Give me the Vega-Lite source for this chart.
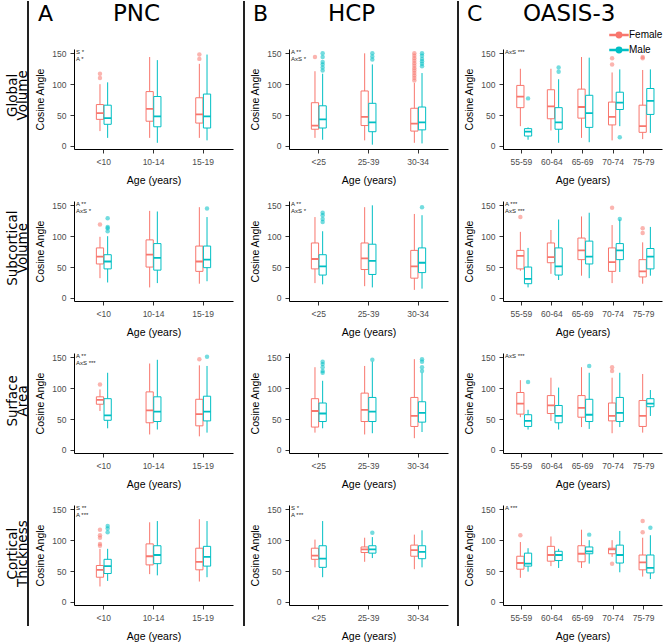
{
 "$schema": "https://vega.github.io/schema/vega-lite/v6.json",
 "padding": 0,
 "background": "white",
 "config": {
  "view": {"stroke": null},
  "font": "Liberation Sans",
  "axis": {"labelFont": "Liberation Sans", "titleFont": "Liberation Sans", "labelFontSize": 8.5, "titleFontSize": 10.5, "titleFontWeight": "normal", "labelColor": "#4d4d4d", "titleColor": "#000", "domainColor": "#000", "domainWidth": 1, "tickColor": "#333", "tickSize": 4, "grid": false, "labelPadding": 4, "labelOverlap": false},
  "axisX": {"labelAngle": 0, "titlePadding": 10},
  "axisY": {"titlePadding": 6, "labelOverlap": false, "labelFlush": false},
  "legend": {"orient": "none", "legendX": 612, "legendY": 27, "symbolType": "M-1.5,-0.07L1.5,-0.07L1.5,0.07L-1.5,0.07Z M0.45,0A0.45,0.45,0,1,1,-0.45,0A0.45,0.45,0,1,1,0.45,0Z", "symbolSize": 144, "labelFontSize": 10, "labelFont": "Liberation Sans", "labelOffset": 3, "rowPadding": 2, "symbolOpacity": 1}
 },
 "datasets": {
  "rows": [
   {"m": "GV", "t": "Global\nVolume"},
   {"m": "SV", "t": "Subcortical\nVolume"},
   {"m": "SA", "t": "Surface\nArea"},
   {"m": "CT", "t": "Cortical\nThickness"}
  ],
  "hdr": [
   {"ds": "PNC", "l": "A", "c": "PNC"},
   {"ds": "HCP", "l": "B", "c": "HCP"},
   {"ds": "OASIS", "l": "C", "c": "OASIS-3"}
  ],
  "d": [
   {"ds":"PNC","m":"GV","k":"note","t":"S *\nA *"},
   {"ds":"HCP","m":"GV","k":"note","t":"A **\nAxS *"},
   {"ds":"OASIS","m":"GV","k":"note","t":"AxS ***"},
   {"ds":"PNC","m":"SV","k":"note","t":"A **\nAxS *"},
   {"ds":"HCP","m":"SV","k":"note","t":"A **\nAxS *"},
   {"ds":"OASIS","m":"SV","k":"note","t":"A ***\nAxS ***"},
   {"ds":"PNC","m":"SA","k":"note","t":"A **\nAxS ***"},
   {"ds":"OASIS","m":"SA","k":"note","t":"AxS ***"},
   {"ds":"PNC","m":"CT","k":"note","t":"S **\nA ***"},
   {"ds":"HCP","m":"CT","k":"note","t":"S *\nA ***"},
   {"ds":"OASIS","m":"CT","k":"note","t":"A ***"},

   {"ds":"PNC","m":"GV","k":"box","age":"<10","sex":"Female","lo":24,"q1":43,"med":53,"q3":67,"hi":100},
   {"ds":"PNC","m":"GV","k":"box","age":"<10","sex":"Male","lo":13,"q1":35,"med":45,"q3":66,"hi":103},
   {"ds":"PNC","m":"GV","k":"box","age":"10-14","sex":"Female","lo":13,"q1":40,"med":60,"q3":88,"hi":144},
   {"ds":"PNC","m":"GV","k":"box","age":"10-14","sex":"Male","lo":5,"q1":31,"med":48,"q3":80,"hi":139},
   {"ds":"PNC","m":"GV","k":"box","age":"15-19","sex":"Female","lo":13,"q1":37,"med":51,"q3":78,"hi":133},
   {"ds":"PNC","m":"GV","k":"box","age":"15-19","sex":"Male","lo":9,"q1":29,"med":48,"q3":84,"hi":148},
   {"ds":"PNC","m":"GV","k":"out","age":"<10","sex":"Female","v":117},
   {"ds":"PNC","m":"GV","k":"out","age":"<10","sex":"Female","v":110},
   {"ds":"PNC","m":"GV","k":"out","age":"15-19","sex":"Female","v":148},
   {"ds":"PNC","m":"GV","k":"out","age":"15-19","sex":"Female","v":141},

   {"ds":"HCP","m":"GV","k":"box","age":"<25","sex":"Female","lo":13,"q1":27,"med":33,"q3":70,"hi":121},
   {"ds":"HCP","m":"GV","k":"box","age":"<25","sex":"Male","lo":10,"q1":29,"med":43,"q3":65,"hi":117},
   {"ds":"HCP","m":"GV","k":"box","age":"25-39","sex":"Female","lo":9,"q1":33,"med":47,"q3":89,"hi":150},
   {"ds":"HCP","m":"GV","k":"box","age":"25-39","sex":"Male","lo":2,"q1":23,"med":38,"q3":69,"hi":132},
   {"ds":"HCP","m":"GV","k":"box","age":"30-34","sex":"Female","lo":5,"q1":24,"med":36,"q3":61,"hi":102},
   {"ds":"HCP","m":"GV","k":"box","age":"30-34","sex":"Male","lo":4,"q1":26,"med":38,"q3":63,"hi":118},
   {"ds":"HCP","m":"GV","k":"out","age":"<25","sex":"Female","v":144},
   {"ds":"HCP","m":"GV","k":"out","age":"<25","sex":"Male","v":150},
   {"ds":"HCP","m":"GV","k":"out","age":"<25","sex":"Male","v":144},
   {"ds":"HCP","m":"GV","k":"out","age":"<25","sex":"Male","v":136},
   {"ds":"HCP","m":"GV","k":"out","age":"<25","sex":"Male","v":132},
   {"ds":"HCP","m":"GV","k":"out","age":"<25","sex":"Male","v":127},
   {"ds":"HCP","m":"GV","k":"out","age":"<25","sex":"Male","v":122},
   {"ds":"HCP","m":"GV","k":"out","age":"25-39","sex":"Male","v":150},
   {"ds":"HCP","m":"GV","k":"out","age":"25-39","sex":"Male","v":145},
   {"ds":"HCP","m":"GV","k":"out","age":"25-39","sex":"Male","v":140},
   {"ds":"HCP","m":"GV","k":"out","age":"30-34","sex":"Female","v":150},
   {"ds":"HCP","m":"GV","k":"out","age":"30-34","sex":"Female","v":146},
   {"ds":"HCP","m":"GV","k":"out","age":"30-34","sex":"Female","v":142},
   {"ds":"HCP","m":"GV","k":"out","age":"30-34","sex":"Female","v":138},
   {"ds":"HCP","m":"GV","k":"out","age":"30-34","sex":"Female","v":134},
   {"ds":"HCP","m":"GV","k":"out","age":"30-34","sex":"Female","v":130},
   {"ds":"HCP","m":"GV","k":"out","age":"30-34","sex":"Female","v":126},
   {"ds":"HCP","m":"GV","k":"out","age":"30-34","sex":"Female","v":122},
   {"ds":"HCP","m":"GV","k":"out","age":"30-34","sex":"Female","v":118},
   {"ds":"HCP","m":"GV","k":"out","age":"30-34","sex":"Female","v":114},
   {"ds":"HCP","m":"GV","k":"out","age":"30-34","sex":"Female","v":110},
   {"ds":"HCP","m":"GV","k":"out","age":"30-34","sex":"Female","v":106},
   {"ds":"HCP","m":"GV","k":"out","age":"30-34","sex":"Male","v":150},
   {"ds":"HCP","m":"GV","k":"out","age":"30-34","sex":"Male","v":146},
   {"ds":"HCP","m":"GV","k":"out","age":"30-34","sex":"Male","v":141},
   {"ds":"HCP","m":"GV","k":"out","age":"30-34","sex":"Male","v":137},
   {"ds":"HCP","m":"GV","k":"out","age":"30-34","sex":"Male","v":133},
   {"ds":"HCP","m":"GV","k":"out","age":"30-34","sex":"Male","v":129},

   {"ds":"OASIS","m":"GV","k":"box","age":"55-59","sex":"Female","lo":32,"q1":62,"med":80,"q3":98,"hi":125},
   {"ds":"OASIS","m":"GV","k":"box","age":"55-59","sex":"Male","lo":10,"q1":16,"med":23,"q3":28,"hi":30},
   {"ds":"OASIS","m":"GV","k":"box","age":"60-64","sex":"Female","lo":25,"q1":44,"med":64,"q3":91,"hi":125},
   {"ds":"OASIS","m":"GV","k":"box","age":"60-64","sex":"Male","lo":5,"q1":27,"med":38,"q3":62,"hi":108},
   {"ds":"OASIS","m":"GV","k":"box","age":"65-69","sex":"Female","lo":13,"q1":45,"med":63,"q3":92,"hi":144},
   {"ds":"OASIS","m":"GV","k":"box","age":"65-69","sex":"Male","lo":6,"q1":30,"med":53,"q3":82,"hi":143},
   {"ds":"OASIS","m":"GV","k":"box","age":"70-74","sex":"Female","lo":9,"q1":34,"med":47,"q3":71,"hi":119},
   {"ds":"OASIS","m":"GV","k":"box","age":"70-74","sex":"Male","lo":32,"q1":59,"med":70,"q3":87,"hi":124},
   {"ds":"OASIS","m":"GV","k":"box","age":"75-79","sex":"Female","lo":11,"q1":22,"med":32,"q3":66,"hi":123},
   {"ds":"OASIS","m":"GV","k":"box","age":"75-79","sex":"Male","lo":21,"q1":51,"med":73,"q3":93,"hi":124},
   {"ds":"OASIS","m":"GV","k":"out","age":"55-59","sex":"Male","v":77},
   {"ds":"OASIS","m":"GV","k":"out","age":"60-64","sex":"Male","v":127},
   {"ds":"OASIS","m":"GV","k":"out","age":"60-64","sex":"Male","v":120},
   {"ds":"OASIS","m":"GV","k":"out","age":"70-74","sex":"Female","v":142},
   {"ds":"OASIS","m":"GV","k":"out","age":"70-74","sex":"Female","v":132},
   {"ds":"OASIS","m":"GV","k":"out","age":"70-74","sex":"Male","v":14},
   {"ds":"OASIS","m":"GV","k":"out","age":"75-79","sex":"Female","v":144},
   {"ds":"OASIS","m":"GV","k":"out","age":"75-79","sex":"Female","v":142},

   {"ds":"PNC","m":"SV","k":"box","age":"<10","sex":"Female","lo":32,"q1":55,"med":67,"q3":81,"hi":99},
   {"ds":"PNC","m":"SV","k":"box","age":"<10","sex":"Male","lo":25,"q1":47,"med":59,"q3":70,"hi":100},
   {"ds":"PNC","m":"SV","k":"box","age":"10-14","sex":"Female","lo":17,"q1":50,"med":70,"q3":94,"hi":141},
   {"ds":"PNC","m":"SV","k":"box","age":"10-14","sex":"Male","lo":24,"q1":45,"med":65,"q3":88,"hi":140},
   {"ds":"PNC","m":"SV","k":"box","age":"15-19","sex":"Female","lo":23,"q1":43,"med":59,"q3":84,"hi":147},
   {"ds":"PNC","m":"SV","k":"box","age":"15-19","sex":"Male","lo":27,"q1":49,"med":62,"q3":84,"hi":131},
   {"ds":"PNC","m":"SV","k":"out","age":"<10","sex":"Female","v":119},
   {"ds":"PNC","m":"SV","k":"out","age":"<10","sex":"Male","v":129},
   {"ds":"PNC","m":"SV","k":"out","age":"<10","sex":"Male","v":115},
   {"ds":"PNC","m":"SV","k":"out","age":"<10","sex":"Male","v":113},
   {"ds":"PNC","m":"SV","k":"out","age":"<10","sex":"Male","v":108},
   {"ds":"PNC","m":"SV","k":"out","age":"15-19","sex":"Male","v":145},

   {"ds":"HCP","m":"SV","k":"box","age":"<25","sex":"Female","lo":24,"q1":47,"med":63,"q3":89,"hi":131},
   {"ds":"HCP","m":"SV","k":"box","age":"<25","sex":"Male","lo":22,"q1":37,"med":51,"q3":70,"hi":108},
   {"ds":"HCP","m":"SV","k":"box","age":"25-39","sex":"Female","lo":19,"q1":46,"med":64,"q3":89,"hi":147},
   {"ds":"HCP","m":"SV","k":"box","age":"25-39","sex":"Male","lo":17,"q1":38,"med":60,"q3":87,"hi":150},
   {"ds":"HCP","m":"SV","k":"box","age":"30-34","sex":"Female","lo":13,"q1":32,"med":51,"q3":77,"hi":136},
   {"ds":"HCP","m":"SV","k":"box","age":"30-34","sex":"Male","lo":15,"q1":41,"med":57,"q3":81,"hi":134},
   {"ds":"HCP","m":"SV","k":"out","age":"<25","sex":"Male","v":138},
   {"ds":"HCP","m":"SV","k":"out","age":"<25","sex":"Male","v":134},
   {"ds":"HCP","m":"SV","k":"out","age":"<25","sex":"Male","v":128},
   {"ds":"HCP","m":"SV","k":"out","age":"<25","sex":"Male","v":123},
   {"ds":"HCP","m":"SV","k":"out","age":"30-34","sex":"Male","v":147},

   {"ds":"OASIS","m":"SV","k":"box","age":"55-59","sex":"Female","lo":44,"q1":47,"med":68,"q3":77,"hi":107},
   {"ds":"OASIS","m":"SV","k":"box","age":"55-59","sex":"Male","lo":17,"q1":23,"med":31,"q3":50,"hi":81},
   {"ds":"OASIS","m":"SV","k":"box","age":"60-64","sex":"Female","lo":39,"q1":57,"med":66,"q3":89,"hi":110},
   {"ds":"OASIS","m":"SV","k":"box","age":"60-64","sex":"Male","lo":29,"q1":37,"med":51,"q3":81,"hi":127},
   {"ds":"OASIS","m":"SV","k":"box","age":"65-69","sex":"Female","lo":36,"q1":62,"med":77,"q3":97,"hi":132},
   {"ds":"OASIS","m":"SV","k":"box","age":"65-69","sex":"Male","lo":32,"q1":55,"med":67,"q3":92,"hi":138},
   {"ds":"OASIS","m":"SV","k":"box","age":"70-74","sex":"Female","lo":24,"q1":43,"med":58,"q3":81,"hi":118},
   {"ds":"OASIS","m":"SV","k":"box","age":"70-74","sex":"Male","lo":42,"q1":62,"med":77,"q3":88,"hi":127},
   {"ds":"OASIS","m":"SV","k":"box","age":"75-79","sex":"Female","lo":23,"q1":34,"med":43,"q3":62,"hi":90},
   {"ds":"OASIS","m":"SV","k":"box","age":"75-79","sex":"Male","lo":36,"q1":47,"med":67,"q3":80,"hi":115},
   {"ds":"OASIS","m":"SV","k":"out","age":"55-59","sex":"Female","v":131},
   {"ds":"OASIS","m":"SV","k":"out","age":"70-74","sex":"Female","v":146},
   {"ds":"OASIS","m":"SV","k":"out","age":"70-74","sex":"Male","v":128},
   {"ds":"OASIS","m":"SV","k":"out","age":"75-79","sex":"Female","v":113},
   {"ds":"OASIS","m":"SV","k":"out","age":"75-79","sex":"Female","v":105},

   {"ds":"PNC","m":"SA","k":"box","age":"<10","sex":"Female","lo":63,"q1":74,"med":81,"q3":86,"hi":98},
   {"ds":"PNC","m":"SA","k":"box","age":"<10","sex":"Male","lo":35,"q1":48,"med":56,"q3":83,"hi":125},
   {"ds":"PNC","m":"SA","k":"box","age":"10-14","sex":"Female","lo":25,"q1":44,"med":64,"q3":94,"hi":140},
   {"ds":"PNC","m":"SA","k":"box","age":"10-14","sex":"Male","lo":33,"q1":46,"med":62,"q3":86,"hi":146},
   {"ds":"PNC","m":"SA","k":"box","age":"15-19","sex":"Female","lo":22,"q1":39,"med":58,"q3":82,"hi":137},
   {"ds":"PNC","m":"SA","k":"box","age":"15-19","sex":"Male","lo":28,"q1":47,"med":62,"q3":87,"hi":136},
   {"ds":"PNC","m":"SA","k":"out","age":"<10","sex":"Female","v":106},
   {"ds":"PNC","m":"SA","k":"out","age":"15-19","sex":"Female","v":147},
   {"ds":"PNC","m":"SA","k":"out","age":"15-19","sex":"Male","v":151},

   {"ds":"HCP","m":"SA","k":"box","age":"<25","sex":"Female","lo":28,"q1":37,"med":63,"q3":83,"hi":134},
   {"ds":"HCP","m":"SA","k":"box","age":"<25","sex":"Male","lo":35,"q1":46,"med":59,"q3":76,"hi":112},
   {"ds":"HCP","m":"SA","k":"box","age":"25-39","sex":"Female","lo":25,"q1":46,"med":65,"q3":92,"hi":136},
   {"ds":"HCP","m":"SA","k":"box","age":"25-39","sex":"Male","lo":27,"q1":46,"med":62,"q3":85,"hi":143},
   {"ds":"HCP","m":"SA","k":"box","age":"30-34","sex":"Female","lo":19,"q1":38,"med":55,"q3":85,"hi":147},
   {"ds":"HCP","m":"SA","k":"box","age":"30-34","sex":"Male","lo":29,"q1":45,"med":60,"q3":78,"hi":125},
   {"ds":"HCP","m":"SA","k":"out","age":"<25","sex":"Male","v":143},
   {"ds":"HCP","m":"SA","k":"out","age":"<25","sex":"Male","v":139},
   {"ds":"HCP","m":"SA","k":"out","age":"<25","sex":"Male","v":134},
   {"ds":"HCP","m":"SA","k":"out","age":"<25","sex":"Male","v":128},
   {"ds":"HCP","m":"SA","k":"out","age":"<25","sex":"Male","v":125},
   {"ds":"HCP","m":"SA","k":"out","age":"25-39","sex":"Male","v":146},
   {"ds":"HCP","m":"SA","k":"out","age":"30-34","sex":"Male","v":147},
   {"ds":"HCP","m":"SA","k":"out","age":"30-34","sex":"Male","v":143},
   {"ds":"HCP","m":"SA","k":"out","age":"30-34","sex":"Male","v":134},
   {"ds":"HCP","m":"SA","k":"out","age":"30-34","sex":"Male","v":128},

   {"ds":"OASIS","m":"SA","k":"box","age":"55-59","sex":"Female","lo":53,"q1":58,"med":75,"q3":93,"hi":113},
   {"ds":"OASIS","m":"SA","k":"box","age":"55-59","sex":"Male","lo":33,"q1":38,"med":47,"q3":57,"hi":65},
   {"ds":"OASIS","m":"SA","k":"box","age":"60-64","sex":"Female","lo":47,"q1":59,"med":72,"q3":88,"hi":117},
   {"ds":"OASIS","m":"SA","k":"box","age":"60-64","sex":"Male","lo":33,"q1":44,"med":55,"q3":72,"hi":101},
   {"ds":"OASIS","m":"SA","k":"box","age":"65-69","sex":"Female","lo":37,"q1":53,"med":68,"q3":88,"hi":134},
   {"ds":"OASIS","m":"SA","k":"box","age":"65-69","sex":"Male","lo":34,"q1":46,"med":57,"q3":82,"hi":125},
   {"ds":"OASIS","m":"SA","k":"box","age":"70-74","sex":"Female","lo":27,"q1":47,"med":55,"q3":76,"hi":117},
   {"ds":"OASIS","m":"SA","k":"box","age":"70-74","sex":"Male","lo":37,"q1":46,"med":60,"q3":85,"hi":125},
   {"ds":"OASIS","m":"SA","k":"box","age":"75-79","sex":"Female","lo":28,"q1":38,"med":55,"q3":80,"hi":123},
   {"ds":"OASIS","m":"SA","k":"box","age":"75-79","sex":"Male","lo":55,"q1":70,"med":75,"q3":83,"hi":97},
   {"ds":"OASIS","m":"SA","k":"out","age":"55-59","sex":"Male","v":110},
   {"ds":"OASIS","m":"SA","k":"out","age":"65-69","sex":"Male","v":136},
   {"ds":"OASIS","m":"SA","k":"out","age":"70-74","sex":"Female","v":134},
   {"ds":"OASIS","m":"SA","k":"out","age":"70-74","sex":"Female","v":128},

   {"ds":"PNC","m":"CT","k":"box","age":"<10","sex":"Female","lo":25,"q1":40,"med":52,"q3":59,"hi":86},
   {"ds":"PNC","m":"CT","k":"box","age":"<10","sex":"Male","lo":34,"q1":46,"med":58,"q3":69,"hi":86},
   {"ds":"PNC","m":"CT","k":"box","age":"10-14","sex":"Female","lo":45,"q1":60,"med":74,"q3":94,"hi":129},
   {"ds":"PNC","m":"CT","k":"box","age":"10-14","sex":"Male","lo":43,"q1":62,"med":76,"q3":91,"hi":131},
   {"ds":"PNC","m":"CT","k":"box","age":"15-19","sex":"Female","lo":33,"q1":52,"med":65,"q3":87,"hi":134},
   {"ds":"PNC","m":"CT","k":"box","age":"15-19","sex":"Male","lo":40,"q1":58,"med":73,"q3":90,"hi":131},
   {"ds":"PNC","m":"CT","k":"out","age":"<10","sex":"Female","v":117},
   {"ds":"PNC","m":"CT","k":"out","age":"<10","sex":"Female","v":108},
   {"ds":"PNC","m":"CT","k":"out","age":"<10","sex":"Female","v":104},
   {"ds":"PNC","m":"CT","k":"out","age":"<10","sex":"Female","v":94},
   {"ds":"PNC","m":"CT","k":"out","age":"<10","sex":"Female","v":91},
   {"ds":"PNC","m":"CT","k":"out","age":"<10","sex":"Male","v":123},
   {"ds":"PNC","m":"CT","k":"out","age":"<10","sex":"Male","v":119},
   {"ds":"PNC","m":"CT","k":"out","age":"<10","sex":"Male","v":113},

   {"ds":"HCP","m":"CT","k":"box","age":"<25","sex":"Female","lo":56,"q1":69,"med":75,"q3":87,"hi":101},
   {"ds":"HCP","m":"CT","k":"box","age":"<25","sex":"Male","lo":40,"q1":56,"med":70,"q3":91,"hi":131},
   {"ds":"HCP","m":"CT","k":"box","age":"25-39","sex":"Female","lo":65,"q1":80,"med":85,"q3":89,"hi":104},
   {"ds":"HCP","m":"CT","k":"box","age":"25-39","sex":"Male","lo":71,"q1":79,"med":85,"q3":91,"hi":105},
   {"ds":"HCP","m":"CT","k":"box","age":"30-34","sex":"Female","lo":53,"q1":74,"med":84,"q3":92,"hi":109},
   {"ds":"HCP","m":"CT","k":"box","age":"30-34","sex":"Male","lo":56,"q1":70,"med":81,"q3":91,"hi":116},
   {"ds":"HCP","m":"CT","k":"out","age":"25-39","sex":"Male","v":112},

   {"ds":"OASIS","m":"CT","k":"box","age":"55-59","sex":"Female","lo":39,"q1":53,"med":63,"q3":74,"hi":97},
   {"ds":"OASIS","m":"CT","k":"box","age":"55-59","sex":"Male","lo":49,"q1":58,"med":62,"q3":79,"hi":87},
   {"ds":"OASIS","m":"CT","k":"box","age":"60-64","sex":"Female","lo":58,"q1":66,"med":76,"q3":90,"hi":106},
   {"ds":"OASIS","m":"CT","k":"box","age":"60-64","sex":"Male","lo":55,"q1":67,"med":76,"q3":82,"hi":86},
   {"ds":"OASIS","m":"CT","k":"box","age":"65-69","sex":"Female","lo":55,"q1":65,"med":78,"q3":91,"hi":117},
   {"ds":"OASIS","m":"CT","k":"box","age":"65-69","sex":"Male","lo":62,"q1":78,"med":82,"q3":89,"hi":100},
   {"ds":"OASIS","m":"CT","k":"box","age":"70-74","sex":"Female","lo":73,"q1":78,"med":85,"q3":87,"hi":100},
   {"ds":"OASIS","m":"CT","k":"box","age":"70-74","sex":"Male","lo":48,"q1":63,"med":76,"q3":92,"hi":115},
   {"ds":"OASIS","m":"CT","k":"box","age":"75-79","sex":"Female","lo":41,"q1":52,"med":64,"q3":76,"hi":104},
   {"ds":"OASIS","m":"CT","k":"box","age":"75-79","sex":"Male","lo":37,"q1":47,"med":55,"q3":76,"hi":108},
   {"ds":"OASIS","m":"CT","k":"out","age":"55-59","sex":"Female","v":108},
   {"ds":"OASIS","m":"CT","k":"out","age":"65-69","sex":"Male","v":109},
   {"ds":"OASIS","m":"CT","k":"out","age":"70-74","sex":"Female","v":62},
   {"ds":"OASIS","m":"CT","k":"out","age":"75-79","sex":"Female","v":131},
   {"ds":"OASIS","m":"CT","k":"out","age":"75-79","sex":"Female","v":113},
   {"ds":"OASIS","m":"CT","k":"out","age":"75-79","sex":"Male","v":120}
  ]
 },
 "spacing": 5,
 "hconcat": [
  {
   "width": 28, "height": 625,
   "data": {"name": "rows"},
   "layer": [
    {"mark": {"type": "rule", "strokeWidth": 1.6, "color": "#222"}, "encoding": {"x": {"datum": 1, "type": "quantitative", "scale": {"domain": [0, 1]}, "axis": null}}},
    {"mark": {"type": "text", "angle": -90, "lineBreak": "\n", "fontSize": 13.5, "lineHeight": 10.5, "font": "DejaVu Sans", "color": "#000"},
     "encoding": {"x": {"datum": 0.45, "type": "quantitative", "scale": {"domain": [0, 1]}, "axis": null},
      "y": {"field": "m", "type": "nominal", "scale": {"domain": ["GV", "SV", "SA", "CT"], "range": [18, 629], "paddingInner": 0, "paddingOuter": 0}, "axis": null},
      "text": {"field": "t"}}}
   ]
  },
  {
   "spacing": 8,
   "vconcat": [
    {
     "width": 159, "height": 40,
     "data": {"name": "hdr"},
     "transform": [{"filter": "datum.ds === 'PNC'"}],
     "layer": [
      {"mark": {"type": "text", "align": "left", "baseline": "alphabetic", "fontSize": 22, "font": "DejaVu Sans", "color": "#000"},
       "encoding": {"text": {"field": "l"}, "x": {"datum": -0.226, "type": "quantitative", "scale": {"domain": [0, 1]}, "axis": null}, "y": {"datum": 0.5, "type": "quantitative", "scale": {"domain": [0, 1]}, "axis": null}}},
      {"mark": {"type": "text", "align": "left", "baseline": "alphabetic", "fontSize": 23, "font": "DejaVu Sans", "color": "#000"},
       "encoding": {"text": {"field": "c"}, "x": {"datum": 0.245, "type": "quantitative", "scale": {"domain": [0, 1]}, "axis": null}, "y": {"datum": 0.5, "type": "quantitative", "scale": {"domain": [0, 1]}, "axis": null}}}
     ]
    },
    {
     "data": {"name": "d"},
     "transform": [{"filter": "datum.ds === 'PNC'"}],
     "facet": {"row": {"field": "m", "type": "nominal", "sort": ["GV", "SV", "SA", "CT"], "header": null}},
     "spacing": {"row": 15},
     "resolve": {"axis": {"x": "independent", "y": "independent"}},
     "spec": {
      "width": 159, "height": 100,
      "layer": [
       {"transform": [{"filter": "datum.k === 'box'"}], "mark": {"type": "rule", "strokeWidth": 1},
        "encoding": {"x": {"field": "age", "type": "nominal", "scale": {"domain": ["<10", "10-14", "15-19"], "paddingInner": 0.7, "paddingOuter": 0.45}, "title": "Age (years)"},
         "xOffset": {"field": "sex", "type": "nominal", "scale": {"domain": ["Female", "Male"], "paddingInner": 0.06}},
         "y": {"field": "lo", "type": "quantitative", "scale": {"domain": [-5, 157], "nice": false, "zero": false}, "axis": {"values": [0, 50, 100, 150], "labelOverlap": false}, "title": "Cosine Angle"},
         "y2": {"field": "hi"},
         "color": {"field": "sex", "type": "nominal", "scale": {"domain": ["Female", "Male"], "range": ["#F8766D", "#00BFC4"]}, "title": null}}},
       {"transform": [{"filter": "datum.k === 'box'"}], "mark": {"type": "bar", "filled": false, "fill": "white", "strokeWidth": 1},
        "encoding": {"x": {"field": "age", "type": "nominal", "title": "Age (years)"},
         "xOffset": {"field": "sex", "type": "nominal"},
         "y": {"field": "q1", "type": "quantitative", "title": "Cosine Angle", "axis": {"values": [0, 50, 100, 150], "labelOverlap": false}},
         "y2": {"field": "q3"},
         "color": {"field": "sex", "type": "nominal", "title": null}}},
       {"transform": [{"filter": "datum.k === 'box'"}], "mark": {"type": "bar", "filled": false, "strokeWidth": 1.8},
        "encoding": {"x": {"field": "age", "type": "nominal", "title": "Age (years)"},
         "xOffset": {"field": "sex", "type": "nominal"},
         "y": {"field": "med", "type": "quantitative", "title": "Cosine Angle", "axis": {"values": [0, 50, 100, 150], "labelOverlap": false}},
         "y2": {"field": "med"},
         "color": {"field": "sex", "type": "nominal", "title": null}}},
       {"transform": [{"filter": "datum.k === 'out'"}], "mark": {"type": "point", "filled": true, "size": 20, "opacity": 0.55},
        "encoding": {"x": {"field": "age", "type": "nominal", "title": "Age (years)"},
         "xOffset": {"field": "sex", "type": "nominal"},
         "y": {"field": "v", "type": "quantitative", "title": "Cosine Angle", "axis": {"values": [0, 50, 100, 150], "labelOverlap": false}},
         "color": {"field": "sex", "type": "nominal", "title": null}}},
       {"transform": [{"filter": "datum.k === 'note'"}], "mark": {"type": "text", "align": "left", "baseline": "top", "fontSize": 6, "lineHeight": 6.5, "lineBreak": "\n", "color": "#222"},
        "encoding": {"x": {"value": 2}, "y": {"value": 0}, "text": {"field": "t"}}}
      ]
     }
    }
   ]
  },
  {
   "width": 6, "height": 625,
   "data": {"name": "rows"},
   "mark": {"type": "rule", "strokeWidth": 1.6, "color": "#222"},
   "encoding": {"x": {"datum": 1, "type": "quantitative", "scale": {"domain": [0, 1]}, "axis": null}}
  },
  {
   "spacing": 8,
   "vconcat": [
    {
     "width": 159, "height": 40,
     "data": {"name": "hdr"},
     "transform": [{"filter": "datum.ds === 'HCP'"}],
     "layer": [
      {"mark": {"type": "text", "align": "left", "baseline": "alphabetic", "fontSize": 22, "font": "DejaVu Sans", "color": "#000"},
       "encoding": {"text": {"field": "l"}, "x": {"datum": -0.226, "type": "quantitative", "scale": {"domain": [0, 1]}, "axis": null}, "y": {"datum": 0.5, "type": "quantitative", "scale": {"domain": [0, 1]}, "axis": null}}},
      {"mark": {"type": "text", "align": "left", "baseline": "alphabetic", "fontSize": 23, "font": "DejaVu Sans", "color": "#000"},
       "encoding": {"text": {"field": "c"}, "x": {"datum": 0.245, "type": "quantitative", "scale": {"domain": [0, 1]}, "axis": null}, "y": {"datum": 0.5, "type": "quantitative", "scale": {"domain": [0, 1]}, "axis": null}}}
     ]
    },
    {
     "data": {"name": "d"},
     "transform": [{"filter": "datum.ds === 'HCP'"}],
     "facet": {"row": {"field": "m", "type": "nominal", "sort": ["GV", "SV", "SA", "CT"], "header": null}},
     "spacing": {"row": 15},
     "resolve": {"axis": {"x": "independent", "y": "independent"}},
     "spec": {
      "width": 159, "height": 100,
      "layer": [
       {"transform": [{"filter": "datum.k === 'box'"}], "mark": {"type": "rule", "strokeWidth": 1},
        "encoding": {"x": {"field": "age", "type": "nominal", "scale": {"domain": ["<25", "25-39", "30-34"], "paddingInner": 0.7, "paddingOuter": 0.45}, "title": "Age (years)"},
         "xOffset": {"field": "sex", "type": "nominal", "scale": {"domain": ["Female", "Male"], "paddingInner": 0.06}},
         "y": {"field": "lo", "type": "quantitative", "scale": {"domain": [-5, 157], "nice": false, "zero": false}, "axis": {"values": [0, 50, 100, 150], "labelOverlap": false}, "title": "Cosine Angle"},
         "y2": {"field": "hi"},
         "color": {"field": "sex", "type": "nominal", "scale": {"domain": ["Female", "Male"], "range": ["#F8766D", "#00BFC4"]}, "title": null}}},
       {"transform": [{"filter": "datum.k === 'box'"}], "mark": {"type": "bar", "filled": false, "fill": "white", "strokeWidth": 1},
        "encoding": {"x": {"field": "age", "type": "nominal", "title": "Age (years)"},
         "xOffset": {"field": "sex", "type": "nominal"},
         "y": {"field": "q1", "type": "quantitative", "title": "Cosine Angle", "axis": {"values": [0, 50, 100, 150], "labelOverlap": false}},
         "y2": {"field": "q3"},
         "color": {"field": "sex", "type": "nominal", "title": null}}},
       {"transform": [{"filter": "datum.k === 'box'"}], "mark": {"type": "bar", "filled": false, "strokeWidth": 1.8},
        "encoding": {"x": {"field": "age", "type": "nominal", "title": "Age (years)"},
         "xOffset": {"field": "sex", "type": "nominal"},
         "y": {"field": "med", "type": "quantitative", "title": "Cosine Angle", "axis": {"values": [0, 50, 100, 150], "labelOverlap": false}},
         "y2": {"field": "med"},
         "color": {"field": "sex", "type": "nominal", "title": null}}},
       {"transform": [{"filter": "datum.k === 'out'"}], "mark": {"type": "point", "filled": true, "size": 20, "opacity": 0.55},
        "encoding": {"x": {"field": "age", "type": "nominal", "title": "Age (years)"},
         "xOffset": {"field": "sex", "type": "nominal"},
         "y": {"field": "v", "type": "quantitative", "title": "Cosine Angle", "axis": {"values": [0, 50, 100, 150], "labelOverlap": false}},
         "color": {"field": "sex", "type": "nominal", "title": null}}},
       {"transform": [{"filter": "datum.k === 'note'"}], "mark": {"type": "text", "align": "left", "baseline": "top", "fontSize": 6, "lineHeight": 6.5, "lineBreak": "\n", "color": "#222"},
        "encoding": {"x": {"value": 2}, "y": {"value": 0}, "text": {"field": "t"}}}
      ]
     }
    }
   ]
  },
  {
   "width": 5, "height": 625,
   "data": {"name": "rows"},
   "mark": {"type": "rule", "strokeWidth": 1.6, "color": "#222"},
   "encoding": {"x": {"datum": 1, "type": "quantitative", "scale": {"domain": [0, 1]}, "axis": null}}
  },
  {
   "spacing": 8,
   "vconcat": [
    {
     "width": 159, "height": 40,
     "data": {"name": "hdr"},
     "transform": [{"filter": "datum.ds === 'OASIS'"}],
     "layer": [
      {"mark": {"type": "text", "align": "left", "baseline": "alphabetic", "fontSize": 22, "font": "DejaVu Sans", "color": "#000"},
       "encoding": {"text": {"field": "l"}, "x": {"datum": -0.226, "type": "quantitative", "scale": {"domain": [0, 1]}, "axis": null}, "y": {"datum": 0.5, "type": "quantitative", "scale": {"domain": [0, 1]}, "axis": null}}},
      {"mark": {"type": "text", "align": "left", "baseline": "alphabetic", "fontSize": 23, "font": "DejaVu Sans", "color": "#000"},
       "encoding": {"text": {"field": "c"}, "x": {"datum": 0.126, "type": "quantitative", "scale": {"domain": [0, 1]}, "axis": null}, "y": {"datum": 0.5, "type": "quantitative", "scale": {"domain": [0, 1]}, "axis": null}}}
     ]
    },
    {
     "data": {"name": "d"},
     "transform": [{"filter": "datum.ds === 'OASIS'"}],
     "facet": {"row": {"field": "m", "type": "nominal", "sort": ["GV", "SV", "SA", "CT"], "header": null}},
     "spacing": {"row": 15},
     "resolve": {"axis": {"x": "independent", "y": "independent"}},
     "spec": {
      "width": 159, "height": 100,
      "layer": [
       {"transform": [{"filter": "datum.k === 'box'"}], "mark": {"type": "rule", "strokeWidth": 1},
        "encoding": {"x": {"field": "age", "type": "nominal", "scale": {"domain": ["55-59", "60-64", "65-69", "70-74", "75-79"], "paddingInner": 0.7, "paddingOuter": 0.45}, "title": "Age (years)"},
         "xOffset": {"field": "sex", "type": "nominal", "scale": {"domain": ["Female", "Male"], "paddingInner": 0.06}},
         "y": {"field": "lo", "type": "quantitative", "scale": {"domain": [-5, 157], "nice": false, "zero": false}, "axis": {"values": [0, 50, 100, 150], "labelOverlap": false}, "title": "Cosine Angle"},
         "y2": {"field": "hi"},
         "color": {"field": "sex", "type": "nominal", "scale": {"domain": ["Female", "Male"], "range": ["#F8766D", "#00BFC4"]}, "title": null}}},
       {"transform": [{"filter": "datum.k === 'box'"}], "mark": {"type": "bar", "filled": false, "fill": "white", "strokeWidth": 1},
        "encoding": {"x": {"field": "age", "type": "nominal", "title": "Age (years)"},
         "xOffset": {"field": "sex", "type": "nominal"},
         "y": {"field": "q1", "type": "quantitative", "title": "Cosine Angle", "axis": {"values": [0, 50, 100, 150], "labelOverlap": false}},
         "y2": {"field": "q3"},
         "color": {"field": "sex", "type": "nominal", "title": null}}},
       {"transform": [{"filter": "datum.k === 'box'"}], "mark": {"type": "bar", "filled": false, "strokeWidth": 1.8},
        "encoding": {"x": {"field": "age", "type": "nominal", "title": "Age (years)"},
         "xOffset": {"field": "sex", "type": "nominal"},
         "y": {"field": "med", "type": "quantitative", "title": "Cosine Angle", "axis": {"values": [0, 50, 100, 150], "labelOverlap": false}},
         "y2": {"field": "med"},
         "color": {"field": "sex", "type": "nominal", "title": null}}},
       {"transform": [{"filter": "datum.k === 'out'"}], "mark": {"type": "point", "filled": true, "size": 20, "opacity": 0.55},
        "encoding": {"x": {"field": "age", "type": "nominal", "title": "Age (years)"},
         "xOffset": {"field": "sex", "type": "nominal"},
         "y": {"field": "v", "type": "quantitative", "title": "Cosine Angle", "axis": {"values": [0, 50, 100, 150], "labelOverlap": false}},
         "color": {"field": "sex", "type": "nominal", "title": null}}},
       {"transform": [{"filter": "datum.k === 'note'"}], "mark": {"type": "text", "align": "left", "baseline": "top", "fontSize": 6, "lineHeight": 6.5, "lineBreak": "\n", "color": "#222"},
        "encoding": {"x": {"value": 2}, "y": {"value": 0}, "text": {"field": "t"}}}
      ]
     }
    }
   ]
  }
 ]
}
